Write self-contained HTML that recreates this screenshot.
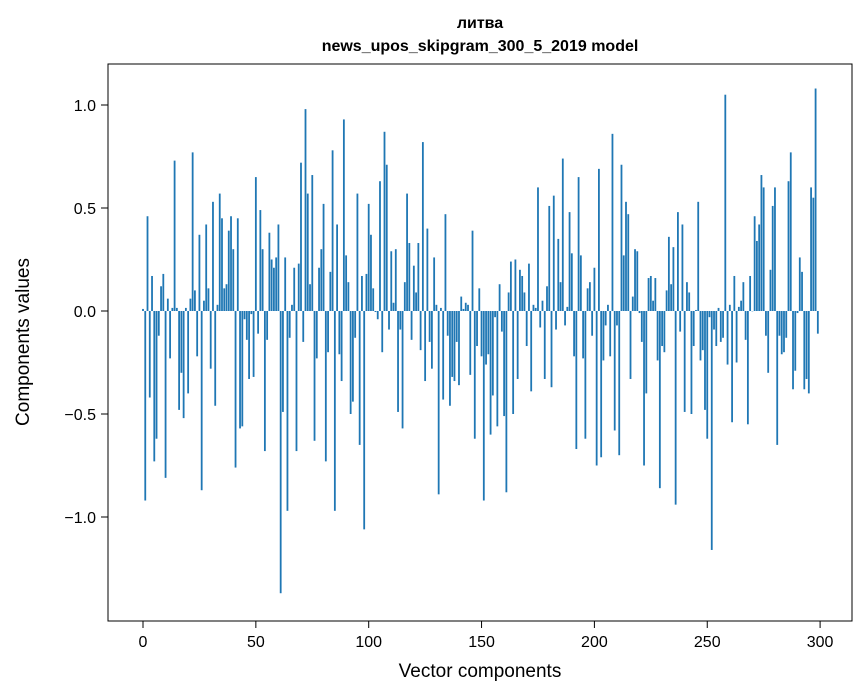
<!DOCTYPE html>
<html><head><meta charset="utf-8">
<style>
html,body{margin:0;padding:0;background:#fff;}
svg{display:block;font-family:"Liberation Sans","DejaVu Sans",sans-serif;}
</style></head>
<body>
<svg id="chart" width="867" height="696" viewBox="0 0 867 696">
<rect x="0" y="0" width="867" height="696" fill="#fff"/>
<text x="480" y="28" text-anchor="middle" font-size="16" font-weight="bold">литва</text>
<text x="480" y="51" text-anchor="middle" font-size="16" font-weight="bold">news_upos_skipgram_300_5_2019 model</text>
<g id="bars"></g>
<rect x="108" y="64" width="744" height="557" fill="none" stroke="#000" stroke-width="1"/>
<g id="xticks"></g>
<g id="yticks"></g>
<text x="480" y="677" text-anchor="middle" font-size="19">Vector components</text>
<text x="29" y="342" text-anchor="middle" font-size="19" transform="rotate(-90 29 342)">Components values</text>
</svg>
<script>
const values = [
0.01,-0.92,0.46,-0.42,0.17,-0.73,-0.62,-0.12,0.12,0.18,
-0.81,0.06,-0.23,0.015,0.73,0.015,-0.48,-0.30,-0.52,0.015,
-0.40,0.06,0.77,0.10,-0.22,0.37,-0.87,0.05,0.42,0.11,
-0.28,0.53,-0.46,0.03,0.57,0.45,0.11,0.13,0.39,0.46,
0.30,-0.76,0.45,-0.57,-0.56,-0.04,-0.14,-0.33,-0.015,-0.32,
0.65,-0.11,0.49,0.30,-0.68,-0.14,0.38,0.25,0.21,0.26,
0.42,-1.37,-0.49,0.26,-0.97,-0.13,0.03,0.21,-0.68,0.23,
0.72,-0.15,0.98,0.57,0.13,0.66,-0.63,-0.23,0.21,0.30,
0.52,-0.73,-0.20,0.19,0.78,-0.97,0.42,-0.21,-0.34,0.93,
0.27,0.14,-0.50,-0.44,-0.13,0.57,-0.65,0.17,-1.06,0.18,
0.52,0.37,0.11,-0.005,-0.04,0.63,-0.20,0.87,0.71,-0.09,
0.29,0.04,0.30,-0.49,-0.09,-0.57,0.14,0.57,0.33,-0.14,
0.22,0.09,0.33,-0.19,0.82,-0.34,0.40,-0.15,-0.28,0.26,
0.03,-0.89,0.015,-0.43,0.47,-0.12,-0.46,-0.32,-0.34,-0.15,
-0.36,0.07,0.01,0.04,0.03,-0.31,0.39,-0.62,-0.17,0.11,
-0.22,-0.92,-0.26,-0.21,-0.60,-0.41,-0.03,-0.56,0.13,-0.10,
-0.51,-0.88,0.09,0.24,-0.50,0.25,-0.33,0.20,0.17,0.09,
-0.17,0.23,-0.39,0.03,0.015,0.60,-0.08,0.05,-0.33,0.12,
0.51,-0.37,0.56,-0.09,0.35,0.14,0.74,-0.07,0.02,0.48,
0.28,-0.22,-0.67,0.65,0.27,-0.23,-0.62,0.11,0.14,-0.12,
0.21,-0.75,0.69,-0.71,-0.24,-0.07,0.03,-0.22,0.86,-0.58,
-0.07,-0.70,0.71,0.27,0.53,0.47,-0.33,0.07,0.30,0.29,
-0.01,-0.15,-0.75,-0.40,0.16,0.17,0.05,0.16,-0.24,-0.86,
-0.17,-0.20,0.10,0.36,0.13,0.31,-0.94,0.48,-0.10,0.42,
-0.49,0.14,0.09,-0.50,-0.17,0.005,0.53,-0.24,-0.19,-0.48,
-0.62,-0.03,-1.16,-0.09,-0.17,0.015,-0.15,-0.13,1.05,-0.26,
0.03,-0.54,0.17,-0.25,0.02,0.05,0.14,-0.14,-0.55,0.17,
0.0,0.46,0.34,0.42,0.66,0.60,-0.12,-0.30,0.20,0.51,
0.60,-0.65,-0.12,-0.21,-0.20,-0.13,0.63,0.77,-0.38,-0.29,
-0.01,0.26,0.19,-0.38,-0.33,-0.40,0.60,0.55,1.08,-0.11
];
const xTickValues = [0,50,100,150,200,250,300];
const yTickValues = [-1.0,-0.5,0.0,0.5,1.0];
const yTickLabels = ["\u22121.0","\u22120.5","0.0","0.5","1.0"];

const NS = "http://www.w3.org/2000/svg";
function xScale(v){ return 143 + v * 2.257; }
function yScale(v){ return 311 - v * 206; }

const barsG = document.getElementById('bars');
values.forEach(function(v, i){
  const r = document.createElementNS(NS, 'rect');
  const y0 = yScale(0), y1 = yScale(v);
  r.setAttribute('x', (xScale(i) - 0.9).toFixed(2));
  r.setAttribute('width', '1.8');
  r.setAttribute('y', Math.min(y0, y1).toFixed(2));
  r.setAttribute('height', Math.max(Math.abs(y1 - y0), 0.3).toFixed(2));
  r.setAttribute('fill', '#1f77b4');
  
  
  barsG.appendChild(r);
});

const xg = document.getElementById('xticks');
xTickValues.forEach(function(t){
  const x = xScale(t);
  const l = document.createElementNS(NS, 'line');
  l.setAttribute('x1', x); l.setAttribute('x2', x);
  l.setAttribute('y1', 621); l.setAttribute('y2', 628);
  l.setAttribute('stroke', '#000');
  
  
  xg.appendChild(l);
  const tx = document.createElementNS(NS, 'text');
  tx.setAttribute('x', x); tx.setAttribute('y', 647);
  tx.setAttribute('text-anchor', 'middle');
  tx.setAttribute('font-size', '16');
  tx.textContent = String(t);
  
  
  xg.appendChild(tx);
});

const yg = document.getElementById('yticks');
yTickValues.forEach(function(t, i){
  const y = yScale(t);
  const l = document.createElementNS(NS, 'line');
  l.setAttribute('x1', 101); l.setAttribute('x2', 108);
  l.setAttribute('y1', y); l.setAttribute('y2', y);
  l.setAttribute('stroke', '#000');
  
  
  yg.appendChild(l);
  const tx = document.createElementNS(NS, 'text');
  tx.setAttribute('x', 96); tx.setAttribute('y', y + 6);
  tx.setAttribute('text-anchor', 'end');
  tx.setAttribute('font-size', '16');
  tx.textContent = yTickLabels[i];
  
  
  yg.appendChild(tx);
});
</script>
</body></html>
